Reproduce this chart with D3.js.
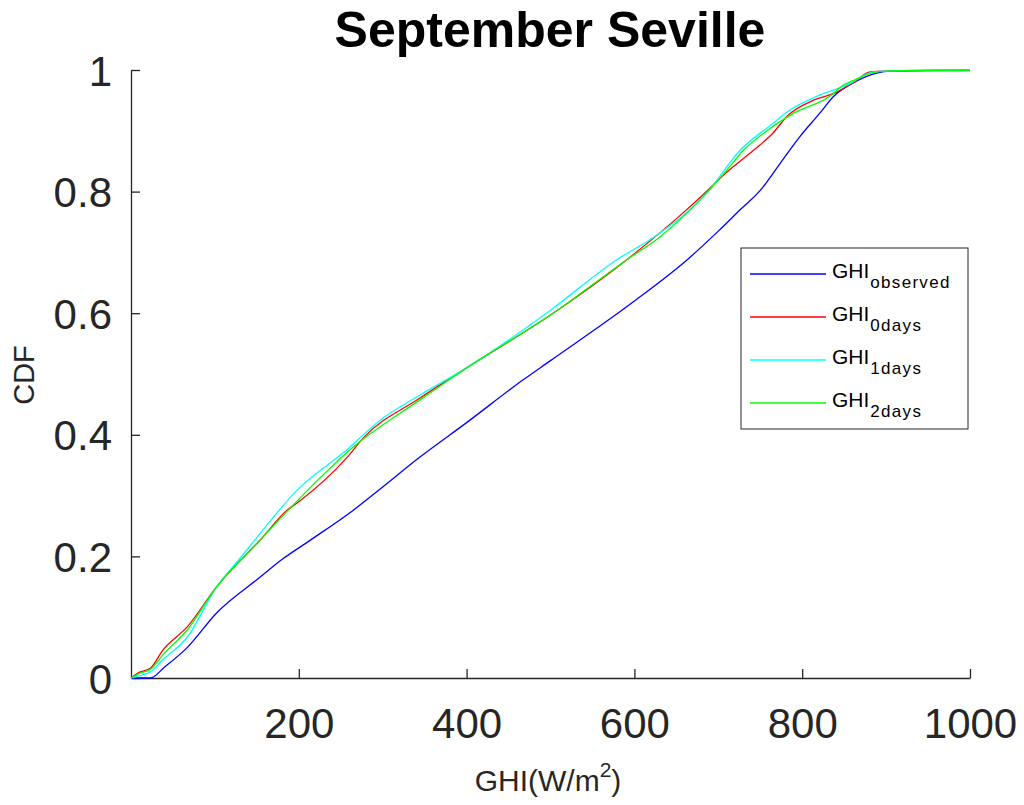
<!DOCTYPE html>
<html>
<head>
<meta charset="utf-8">
<script src="https://d3js.org/d3.v7.min.js"></script>
<style>
  body { margin: 0; background: #fff; }
  text { font-family: "Liberation Sans", Arial, sans-serif; }
</style>
</head>
<body>
<svg id="chart" width="1024" height="805"></svg>
<script>
// DATA (GHI in W/m2, cumulative probability)
var obsGhi = [0, 23, 40, 67, 102, 154, 181, 213, 265, 297, 344, 400, 467, 500, 600, 663, 700, 726, 750, 774, 797, 821, 837, 861, 889, 905, 950, 1000];
var obsCdf = [0, 0, 0.018, 0.05, 0.107, 0.166, 0.196, 0.226, 0.276, 0.311, 0.363, 0.42, 0.49, 0.522, 0.62, 0.688, 0.735, 0.77, 0.802, 0.847, 0.89, 0.929, 0.956, 0.979, 0.995, 0.998, 0.999, 0.999];

var d0Ghi = [0, 11, 23, 38, 67, 102, 154, 186, 200, 257, 277, 344, 400, 500, 591, 658, 678, 710, 742, 765, 782, 813, 837, 861, 881, 920, 1000];
var d0Cdf = [0, 0.01, 0.016, 0.046, 0.084, 0.15, 0.227, 0.276, 0.29, 0.362, 0.395, 0.46, 0.51, 0.597, 0.688, 0.765, 0.79, 0.832, 0.868, 0.896, 0.924, 0.95, 0.961, 0.979, 0.997, 0.999, 1];

var d1Ghi = [0, 11, 23, 38, 67, 102, 130, 154, 198, 257, 297, 344, 400, 500, 579, 622, 686, 726, 765, 782, 821, 853, 885, 920, 1000];
var d1Cdf = [0, 0.004, 0.01, 0.03, 0.067, 0.15, 0.197, 0.238, 0.309, 0.375, 0.424, 0.465, 0.51, 0.605, 0.688, 0.724, 0.797, 0.868, 0.912, 0.931, 0.959, 0.975, 0.997, 0.999, 1];

var d2Ghi = [0, 11, 23, 38, 67, 102, 154, 186, 265, 344, 400, 500, 591, 630, 678, 710, 730, 758, 790, 837, 845, 863, 889, 920, 1000];
var d2Cdf = [0, 0.008, 0.014, 0.038, 0.079, 0.15, 0.227, 0.274, 0.38, 0.457, 0.51, 0.597, 0.688, 0.725, 0.786, 0.835, 0.868, 0.9, 0.929, 0.961, 0.971, 0.984, 0.997, 0.999, 1];

var seriesNames = ["observed", "0days", "1days", "2days"];
var seriesColors = ["#0000ff", "#ff0000", "#00ffff", "#00ff00"];
var seriesGhi = [obsGhi, d0Ghi, d1Ghi, d2Ghi];
var seriesCdf = [obsCdf, d0Cdf, d1Cdf, d2Cdf];

var xTicks = [200, 400, 600, 800, 1000];
var yTicks = [0, 0.2, 0.4, 0.6, 0.8, 1];

// LAYOUT
var svg = d3.select("#chart");
var plotLeft = 131, plotRight = 970, plotTop = 70, plotBottom = 678;
var axisColor = "#262626";

var x = d3.scaleLinear().domain([0, 1000]).range([plotLeft, plotRight]);
var y = d3.scaleLinear().domain([0, 1]).range([plotBottom, plotTop]);

// AXES (ticks pointing inward, like matlab)
var xAxis = svg.append("g")
    .attr("transform", "translate(0," + plotBottom + ")")
    .call(d3.axisBottom(x).tickValues(xTicks).tickSizeInner(-9).tickSizeOuter(0).tickPadding(30)
        .tickFormat(d3.format("d")));
var yAxis = svg.append("g")
    .attr("transform", "translate(" + plotLeft + ",0)")
    .call(d3.axisLeft(y).tickValues(yTicks).tickSizeInner(-9).tickSizeOuter(0).tickPadding(19)
        .tickFormat(function (d) { return d === 0 || d === 1 ? d : d3.format(".1f")(d); }));

[xAxis, yAxis].forEach(function (a) {
    a.select(".domain").attr("stroke", axisColor).attr("stroke-width", 1.3);
    a.selectAll(".tick line").attr("stroke", axisColor).attr("stroke-width", 1.3);
    a.selectAll(".tick text").attr("fill", axisColor).style("font-size", "42px")
        .style("font-family", "'Liberation Sans', Arial, sans-serif");
});
yAxis.selectAll(".tick text").attr("dy", "0.36em");

// CURVES
var line = d3.line()
    .curve(d3.curveMonotoneX)
    .x(function (d) { return x(d[0]); })
    .y(function (d) { return y(d[1]); });

seriesNames.forEach(function (name, i) {
    var pts = seriesGhi[i].map(function (g, j) { return [g, seriesCdf[i][j]]; });
    svg.append("path")
        .datum(pts)
        .attr("fill", "none")
        .attr("stroke", seriesColors[i])
        .attr("stroke-width", 1.3)
        .attr("stroke-linejoin", "round")
        .attr("d", line);
});

// TITLE + LABELS
svg.append("text")
    .attr("x", 550).attr("y", 47)
    .attr("text-anchor", "middle")
    .style("font-size", "50px").style("font-weight", "bold")
    .text("September Seville");

svg.append("text")
    .attr("transform", "translate(34,375) rotate(-90)")
    .attr("text-anchor", "middle")
    .attr("fill", axisColor)
    .style("font-size", "29px")
    .text("CDF");

var xl = svg.append("text")
    .attr("x", 548).attr("y", 791)
    .attr("text-anchor", "middle")
    .attr("fill", axisColor)
    .style("font-size", "30px");
xl.append("tspan").text("GHI(W/m");
xl.append("tspan").attr("dy", -14).style("font-size", "21px").text("2");
xl.append("tspan").attr("dy", 14).text(")");

// LEGEND
var lg = svg.append("g");
lg.append("rect")
    .attr("x", 741).attr("y", 248).attr("width", 227).attr("height", 181)
    .attr("fill", "#fff").attr("stroke", axisColor).attr("stroke-width", 1);

seriesNames.forEach(function (name, i) {
    var ly = 274 + i * 43;
    lg.append("line")
        .attr("x1", 750).attr("x2", 826).attr("y1", ly).attr("y2", ly)
        .attr("stroke", seriesColors[i]).attr("stroke-width", 1.3);
    var t = lg.append("text")
        .attr("x", 832).attr("y", ly + 4)
        .attr("fill", "#000")
        .style("font-size", "21px");
    t.append("tspan").text("GHI");
    t.append("tspan").attr("dy", 10).attr("dx", 1).style("font-size", "17px")
        .style("letter-spacing", "1.3px").text(name);
});
</script>
</body>
</html>
